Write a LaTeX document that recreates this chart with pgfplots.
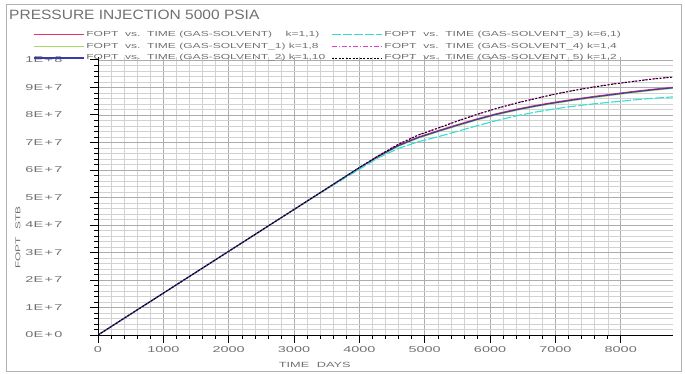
\documentclass[border=0pt]{standalone}
\usepackage{fontspec}
\usepackage{pgfplots}
\pgfplotsset{compat=1.18}
\setmainfont{Liberation Sans}
\newfontfamily\lbl[FakeStretch=1.7]{Liberation Sans}
\newfontfamily\leg[FakeStretch=1.65]{Liberation Sans}
\newfontfamily\ttl[FakeStretch=1.15]{Liberation Sans}
\definecolor{cRed}{HTML}{E8306A}
\definecolor{cGreen}{HTML}{A8D860}
\definecolor{cBlue}{HTML}{3A3AA8}
\definecolor{cCyan}{HTML}{30E0D0}
\definecolor{cMag}{HTML}{E040C8}
\definecolor{txt}{HTML}{707070}
\begin{document}
\begin{tikzpicture}[x=1pt,y=1pt]
\path[use as bounding box] (0,0) rectangle (685,374);
\draw[gray!60, line width=0.8pt] (6,370) rectangle (681,3);
\node[anchor=west, text=txt, font=\ttl\fontsize{13.5}{14}\selectfont, inner sep=0pt] at (9,359) {PRESSURE INJECTION 5000 PSIA};
\begin{axis}[
  at={(98pt,39pt)}, anchor=south west,
  scale only axis, width=575pt, height=278pt,
  xmin=0, xmax=8800, ymin=0, ymax=1.01e8,
  axis x line*=bottom, axis y line*=left,
  xtick={0,1000,...,8000}, minor x tick num=4,
  ytick={0,1e7,2e7,3e7,4e7,5e7,6e7,7e7,8e7,9e7,1e8},
  yticklabels={0E\,+\,0,1E\,+\,7,2E\,+\,7,3E\,+\,7,4E\,+\,7,5E\,+\,7,6E\,+\,7,7E\,+\,7,8E\,+\,7,9E\,+\,7,1E\,+\,8},
  scaled y ticks=false, scaled x ticks=false,
  minor y tick num=4,
  xticklabel={\pgfmathprintnumber[fixed,1000 sep={}]{\tick}},
  /pgf/number format/assume math mode=true,
  ticklabel style={font=\lbl\fontsize{8.5}{9}\selectfont, text=txt},
  yticklabel style={xshift=-24pt},
  tick align=outside, major tick length=8pt, minor tick length=4pt,
  tick style={black, line width=0.6pt},
  minor tick style={black, line width=0.4pt},
  axis line style={black, line width=0.8pt},
  grid=both,
  major grid style={gray!65, line width=0.45pt},
  minor grid style={gray!35, line width=0.3pt},
  xlabel={TIME\quad DAYS},
  xlabel style={font=\lbl\fontsize{7.5}{8}\selectfont, text=txt, at={(axis description cs:0.377,0)}, anchor=center, yshift=-30pt},
  ylabel={FOPT\quad STB},
  ylabel style={font=\lbl\fontsize{7}{8}\selectfont, text=txt, at={(axis description cs:-0.139,0.35)}, anchor=center},
  legend columns=2,
  legend style={draw=none, fill=none, at={(axis description cs:-0.113,1.10)}, anchor=north west,
    font=\leg\fontsize{7.3}{8.5}\selectfont, text=txt, inner sep=0pt, row sep=0.8pt,
    /tikz/every even column/.append style={column sep=4pt}},
  legend cell align=left,
  legend image code/.code={\draw[#1] (0pt,0pt) -- (50pt,0pt);},
  every axis plot/.append style={line width=1.1pt},
]
% series 1 (red)
\addplot[cRed] coordinates {(0,0) (500,0.76e7) (1000,1.52e7) (1500,2.28e7) (2000,3.04e7) (2500,3.80e7) (3000,4.56e7) (3500,5.32e7) (4000,6.08e7) (4300,6.52e7) (4600,6.90e7) (4900,7.19e7) (5200,7.42e7) (5500,7.64e7) (5800,7.85e7) (6100,8.04e7) (6400,8.20e7) (6700,8.34e7) (7000,8.46e7) (7300,8.57e7) (7600,8.67e7) (7900,8.76e7) (8200,8.85e7) (8500,8.93e7) (8800,9.00e7)};
\addlegendentry{FOPT\ \ vs.\ \ TIME (GAS-SOLVENT)\ \ \ \ k=1,1)}
% series 4 (cyan)
\addplot[cCyan, dash pattern=on 9pt off 2pt] coordinates {(0,0) (500,0.76e7) (1000,1.52e7) (1500,2.28e7) (2000,3.04e7) (2500,3.80e7) (3000,4.56e7) (3500,5.30e7) (4000,6.02e7) (4300,6.45e7) (4600,6.78e7) (4900,7.02e7) (5200,7.20e7) (5500,7.40e7) (5800,7.60e7) (6100,7.79e7) (6400,7.96e7) (6700,8.10e7) (7000,8.22e7) (7300,8.32e7) (7600,8.40e7) (7900,8.47e7) (8200,8.54e7) (8500,8.60e7) (8800,8.65e7)};
\addlegendentry{FOPT\ \ vs.\ \ TIME (GAS-SOLVENT\_3) k=6,1)}
% series 2 (green)
\addplot[cGreen] coordinates {(0,0) (500,0.76e7) (1000,1.52e7) (1500,2.28e7) (2000,3.04e7) (2500,3.80e7) (3000,4.56e7) (3500,5.32e7) (4000,6.08e7) (4300,6.49e7) (4600,6.86e7) (4900,7.15e7) (5200,7.38e7) (5500,7.60e7) (5800,7.81e7) (6100,8.00e7) (6400,8.16e7) (6700,8.30e7) (7000,8.42e7) (7300,8.53e7) (7600,8.63e7) (7900,8.72e7) (8200,8.81e7) (8500,8.89e7) (8800,8.96e7)};
\addlegendentry{FOPT\ \ vs.\ \ TIME (GAS-SOLVENT\_1) k=1,8}
% series 5 (magenta dash-dot)
\addplot[cMag, dash pattern=on 5pt off 2pt on 1.5pt off 2pt] coordinates {(0,0) (500,0.76e7) (1000,1.52e7) (1500,2.28e7) (2000,3.04e7) (2500,3.80e7) (3000,4.56e7) (3500,5.32e7) (4000,6.08e7) (4300,6.53e7) (4600,6.94e7) (4900,7.27e7) (5200,7.52e7) (5500,7.78e7) (5800,8.02e7) (6100,8.24e7) (6400,8.43e7) (6700,8.60e7) (7000,8.76e7) (7300,8.90e7) (7600,9.02e7) (7900,9.13e7) (8200,9.22e7) (8500,9.31e7) (8800,9.38e7)};
\addlegendentry{FOPT\ \ vs.\ \ TIME (GAS-SOLVENT\_4) k=1,4}
% series 3 (blue)
\addplot[cBlue] coordinates {(0,0) (500,0.76e7) (1000,1.52e7) (1500,2.28e7) (2000,3.04e7) (2500,3.80e7) (3000,4.56e7) (3500,5.32e7) (4000,6.08e7) (4300,6.50e7) (4600,6.88e7) (4900,7.17e7) (5200,7.40e7) (5500,7.62e7) (5800,7.83e7) (6100,8.02e7) (6400,8.18e7) (6700,8.32e7) (7000,8.44e7) (7300,8.55e7) (7600,8.65e7) (7900,8.74e7) (8200,8.83e7) (8500,8.91e7) (8800,8.98e7)};
\addlegendentry{FOPT\ \ vs.\ \ TIME (GAS-SOLVENT\_2) k=1,10}
% series 6 (black dotted)
\addplot[black, line width=0.9pt, dash pattern=on 2pt off 1.5pt] coordinates {(0,0) (500,0.76e7) (1000,1.52e7) (1500,2.28e7) (2000,3.04e7) (2500,3.80e7) (3000,4.56e7) (3500,5.32e7) (4000,6.08e7) (4300,6.52e7) (4600,6.93e7) (4900,7.26e7) (5200,7.51e7) (5500,7.77e7) (5800,8.01e7) (6100,8.23e7) (6400,8.42e7) (6700,8.59e7) (7000,8.75e7) (7300,8.89e7) (7600,9.01e7) (7900,9.12e7) (8200,9.21e7) (8500,9.30e7) (8800,9.37e7)};
\addlegendentry{FOPT\ \ vs.\ \ TIME (GAS-SOLVENT\_5) k=1,2}
\end{axis}
\end{tikzpicture}
\end{document}
